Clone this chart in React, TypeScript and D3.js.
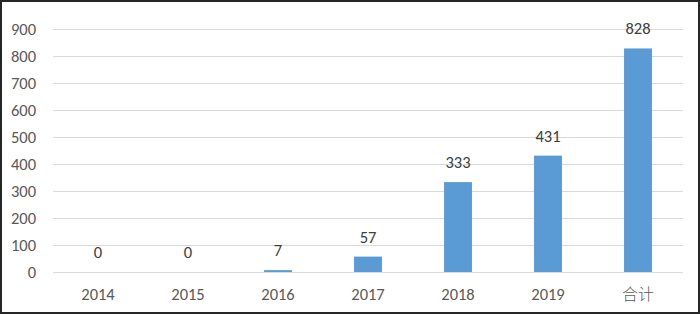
import React from "react";
import * as d3 from "d3";

const categories = ["2014", "2015", "2016", "2017", "2018", "2019", "合计"];
const values = [0, 0, 7, 57, 333, 431, 828];
const yTicks = [0, 100, 200, 300, 400, 500, 600, 700, 800, 900];

const W = 700;
const H = 314;
const margin = { left: 53, right: 17, top: 29, bottom: 42 };

export default function App() {
  const x = d3
    .scaleBand<string>()
    .domain(categories)
    .range([margin.left, W - margin.right])
    .paddingInner(0.69)
    .paddingOuter(0.345);
  const y = d3.scaleLinear().domain([0, 900]).range([H - margin.bottom, margin.top]);
  const font = "Carlito, Lato, 'Open Sans', sans-serif";
  const fs = 16.5;
  return (
    <div style={{ position: "fixed", left: 0, top: 0 }}>
      <svg width={W} height={H} style={{ display: "block", fontFamily: font }}>
        <rect x={0} y={0} width={W} height={H} fill="#fff" />
        {yTicks.map((t) => (
          <g key={t}>
            <line
              x1={margin.left}
              x2={W - margin.right}
              y1={Math.round(y(t)) + 0.5}
              y2={Math.round(y(t)) + 0.5}
              stroke="#D9D9D9"
              strokeWidth={1}
            />
            <text
              x={36}
              y={y(t)}
              dy="0.35em"
              textAnchor="end"
              fontSize={fs}
              fill="#595959"
            >
              {t}
            </text>
          </g>
        ))}
        {categories.map((c, i) => {
          const bx = x(c)!;
          const bw = x.bandwidth();
          const top = y(values[i]);
          return (
            <g key={c}>
              <rect
                x={bx}
                y={top}
                width={bw}
                height={y(0) - top}
                fill="#5B9BD5"
              />
              <text
                x={bx + bw / 2}
                y={top - 14}
                textAnchor="middle"
                fontSize={fs}
                fill="#404040"
              >
                {values[i]}
              </text>
              <text
                x={bx + bw / 2}
                y={300}
                textAnchor="middle"
                fontSize={i === 6 ? 16 : fs}
                fill="#595959"
                fontFamily={i === 6 ? "'Noto Sans CJK SC', sans-serif" : undefined}
                fontWeight={i === 6 ? 300 : undefined}
              >
                {c}
              </text>
            </g>
          );
        })}
        <rect x={1} y={1} width={W - 2} height={H - 2} fill="none" stroke="#262626" strokeWidth={2} />
      </svg>
    </div>
  );
}
